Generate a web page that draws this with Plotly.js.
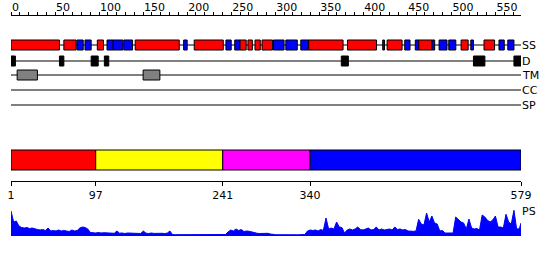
<!DOCTYPE html>
<html><head><meta charset="utf-8">
<script src="https://cdn.plot.ly/plotly-3.0.1.min.js"></script>
<style>html,body{margin:0;padding:0;background:#fff}#chart{width:550px;height:260px}</style>
</head><body><div id="chart"></div>
<script>
// ---------- data ----------
const seqLength = 579;
const trackNames = ['SS', 'D', 'TM', 'CC', 'SP'];
const ssStart = [0, 60, 75, 84, 98, 109, 116, 128, 141, 196, 208, 244, 254, 260, 269, 277, 285, 298, 312, 329, 338, 382, 422, 427, 447, 459, 463, 478, 486, 497, 511, 522, 537, 554, 564];
const ssEnd   = [55, 74, 82, 91, 105, 116, 127, 138, 191, 200, 241, 250, 260, 267, 274, 283, 297, 310, 325, 338, 377, 415, 424, 444, 453, 463, 478, 481, 495, 505, 519, 525, 549, 560, 571];
const ssType  = ['H','H','E','E','H','E','E','E','H','E','H','E','E','H','H','H','H','E','E','E','H','H','E','H','E','E','H','E','E','E','H','E','H','E','E'];
const disStart = [0, 55, 91, 106, 375, 525, 571];
const disEnd   = [5, 60, 99, 111, 383, 538, 579];
const tmStart = [7, 150];
const tmEnd   = [30, 169];
const domainStart = [1, 97, 241, 340];
const domainEnd   = [97, 241, 340, 579];
const domainTicks = [1, 97, 241, 340, 579];
const psStep = 3;
const psVals = [
 25, 14, 15, 10, 8.5, 8, 8.5, 7.5, 8, 7,
 6.5, 6, 6.5, 5.5, 8, 5, 5.5, 5, 6, 5,
 5.5, 5, 4.5, 6, 5, 5.5, 8, 9, 8.5, 7,
 3.5, 3.3, 3, 3.5, 3, 3.3, 3, 2.8, 3, 2.7,
 5, 2.8, 3, 2.5, 3, 2.8, 2.5, 3, 2.7, 2.5,
 5, 2.8, 2.5, 3, 2.6, 2.8, 2.5, 2.7, 2.5, 2.8,
 5, 1.5, 1.3, 1.3, 1.2, 1.3, 1.4, 1.3, 1.2, 1.3,
 1.3, 1.2, 1.3, 1.4, 1.3, 1.2, 1.3, 1.3, 1.2, 1.3,
 1.4, 1.5, 4, 6, 5, 7, 5.5, 6.5, 4.5, 5,
 4.7, 4, 3, 2.7, 2.5, 2.7, 2.5, 2.7, 2, 1.5,
 1.3, 1.3, 1.2, 1.3, 1.3, 1.2, 1.3, 1.3, 1.2, 1.3,
 1.3, 1.5, 5, 6, 5.5, 6, 5, 6.5, 5.5, 18,
 7, 8, 7, 14, 9, 8.5, 3, 6, 7, 6,
 7, 9, 6.5, 6, 7, 8, 6, 6.5, 9, 6,
 7, 6, 6.5, 7, 6, 9, 6.5, 7, 6, 6.5,
 5, 4.5, 4.7, 5, 16.7, 12, 11, 23, 14, 20,
 13, 12, 5, 5.5, 3, 3, 3, 3, 19, 16,
 14, 13, 7, 17, 8, 7, 7.5, 6, 21, 19,
 15.7, 14, 16, 20, 9, 9, 8, 21.7, 14, 12,
 25.7, 7.3, 7, 13
];

// ---------- styling / layout ----------
const W = 550, H = 260;
const trackY = {SS: 45, D: 61, TM: 75, CC: 90, SP: 105};
const ssColor = {H: '#ff0000', E: '#0000ff'};
const domainColors = ['#ff0000', '#ffff00', '#ff00ff', '#0000ff'];
const xDom = [11 / W, 521 / W];
const FONT = 'DejaVu Sans, Verdana, sans-serif';

function hbar(starts, ends, y, width, colors) {
  return {
    type: 'bar', orientation: 'h',
    base: starts, x: starts.map((s, i) => ends[i] - s),
    y: starts.map(() => y), width: width,
    marker: {color: colors, line: {color: '#000', width: 1}},
    hoverinfo: 'skip', xaxis: 'x', yaxis: 'y'
  };
}

const traces = [];
traces.push(hbar(ssStart, ssEnd, trackY.SS, 10, ssType.map(t => ssColor[t])));
traces.push(hbar(disStart, disEnd, trackY.D, 10, '#000000'));
traces.push(hbar(tmStart, tmEnd, trackY.TM, 10, '#808080'));
const dom = hbar(domainStart, domainEnd, 160, 20, domainColors);
dom.xaxis = 'x2';
traces.push(dom);
traces.push({
  type: 'scatter', mode: 'lines',
  x: psVals.map((v, i) => Math.min(1 + i * psStep, seqLength)), y: psVals,
  fill: 'tozeroy', fillcolor: '#0000ff', line: {color: '#0000ff', width: 1},
  hoverinfo: 'skip', xaxis: 'x2', yaxis: 'y2'
});

const shapes = trackNames.map(n => ({
  type: 'line', xref: 'x', yref: 'y', layer: 'below',
  x0: 0, x1: seqLength, y0: trackY[n], y1: trackY[n],
  line: {color: '#000', width: 1}
}));

const annotations = trackNames.map(n => ({
  xref: 'paper', yref: 'y', x: 521 / W, y: trackY[n], xanchor: 'left', yanchor: 'middle',
  text: n, showarrow: false, font: {family: FONT, size: 11, color: '#000'}, borderpad: 0
}));
annotations.push({
  xref: 'paper', yref: 'paper', x: 521 / W, y: (H - 211) / H, xanchor: 'left', yanchor: 'middle',
  text: 'PS', showarrow: false, font: {family: FONT, size: 11, color: '#000'}, borderpad: 0
});

const layout = {
  width: W, height: H, margin: {l: 0, r: 0, t: 0, b: 0},
  paper_bgcolor: '#ffffff', plot_bgcolor: 'rgba(0,0,0,0)',
  showlegend: false, barmode: 'overlay',
  font: {family: FONT, size: 11, color: '#000'},
  xaxis: {
    domain: xDom, range: [0, seqLength], side: 'top', anchor: 'free', position: (H - 15) / H,
    showline: true, linecolor: '#000', linewidth: 1,
    ticks: 'outside', ticklen: 3, tickcolor: '#000', tickwidth: 1, tick0: 0, dtick: 50,
    minor: {ticks: 'outside', dtick: 10, tick0: 0, ticklen: 3, tickcolor: '#000', tickwidth: 1, showgrid: false},
    ticklabelposition: 'outside right', ticklabelstandoff: 0,
    showgrid: false, zeroline: false, fixedrange: true,
    tickfont: {family: FONT, size: 11, color: '#000'}
  },
  yaxis: {domain: [0, 1], range: [H, 0], visible: false, anchor: 'x', fixedrange: true},
  xaxis2: {
    domain: xDom, range: [1, seqLength], anchor: 'free', position: (H - 181) / H, side: 'bottom',
    showline: true, linecolor: '#000', linewidth: 1,
    ticks: 'outside', ticklen: 4, tickcolor: '#000', tickwidth: 1,
    tickmode: 'array', tickvals: domainTicks, ticktext: domainTicks.map(String),
    showgrid: false, zeroline: false, fixedrange: true,
    tickfont: {family: FONT, size: 11, color: '#000'}
  },
  yaxis2: {domain: [(H - 236) / H, (H - 209) / H], range: [0, 27], visible: false, anchor: 'x2', fixedrange: true},
  shapes: shapes, annotations: annotations
};

Plotly.newPlot('chart', traces, layout, {displayModeBar: false, staticPlot: true});
</script>
</body></html>
